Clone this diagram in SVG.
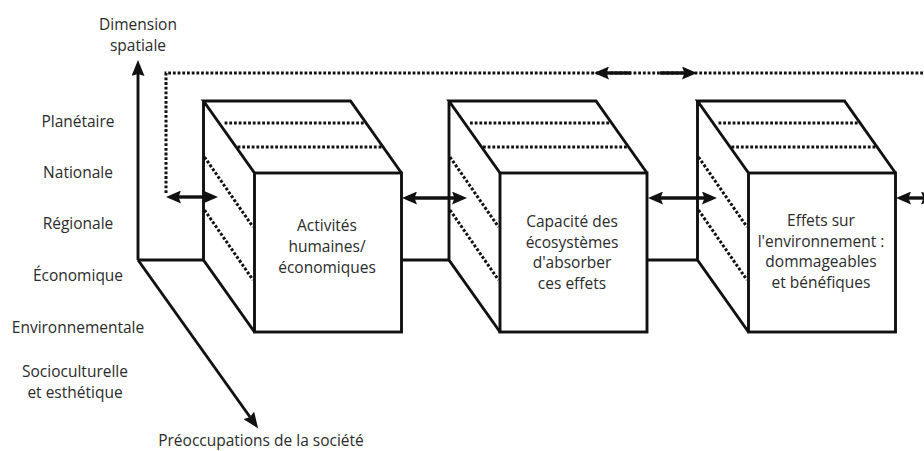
<svg xmlns="http://www.w3.org/2000/svg" width="924" height="451" viewBox="0 0 924 451">
  <style>
    .txt { font-family: "Open Sans", "Noto Sans", sans-serif; font-size: 15.5px; fill: #2b2b2b; text-anchor: middle; }
    .edge { fill: none; stroke: #111; stroke-width: 2.9; stroke-linejoin: miter; }
    .face { fill: #fff; stroke: #111; stroke-width: 2.9; }
    .dots { fill: none; stroke: #111; stroke-width: 3; stroke-dasharray: 2.8 1.9; }
    .shaft { fill: none; stroke: #111; stroke-width: 3.4; }
  </style>
  <defs>
    <marker id="head" markerUnits="userSpaceOnUse" viewBox="0 0 15 13" markerWidth="15" markerHeight="13" refX="3" refY="6.5" orient="auto-start-reverse">
      <path d="M0,0 L15,6.5 L0,13 L2.5,6.5 z" fill="#111"/>
    </marker>
    <marker id="axisHead" markerUnits="userSpaceOnUse" viewBox="0 0 16 13" markerWidth="16" markerHeight="13" refX="2" refY="6.5" orient="auto">
      <path d="M0,0 L16,6.5 L0,13 L2,6.5 z" fill="#111"/>
    </marker>
  </defs>
  <rect width="924" height="451" fill="#fff"/>

  <!-- axes: spatial dimension (up) and societal concerns (down-right) -->
  <g id="axes">
    <line class="edge" x1="138" y1="260" x2="138" y2="74" marker-end="url(#axisHead)"/>
    <line class="edge" x1="138" y1="260" x2="250" y2="417" marker-end="url(#axisHead)"/>
    <text class="txt" x="138" y="30">Dimension</text>
    <text class="txt" x="138" y="51">spatiale</text>
    <text class="txt" x="78" y="127">Planétaire</text>
    <text class="txt" x="78" y="178">Nationale</text>
    <text class="txt" x="78" y="229">Régionale</text>
    <text class="txt" x="78" y="281">Économique</text>
    <text class="txt" x="78" y="333">Environnementale</text>
    <text class="txt" x="75" y="377">Socioculturelle</text>
    <text class="txt" x="75" y="398">et esthétique</text>
    <text class="txt" x="261" y="446">Préoccupations de la société</text>
  </g>

  <!-- cube 1 -->
  <g id="cube-activites">
    <rect class="face" x="254.5" y="173" width="147" height="159"/>
    <path class="edge" d="M254.5,173 L203.5,101 H350.5 L401.5,173 M203.5,101 V260 L254.5,332"/>
    <line class="dots" x1="224.6" y1="123" x2="366" y2="123"/>
    <line class="dots" x1="237.6" y1="147" x2="383" y2="147"/>
    <line class="dots" x1="204.5" y1="157" x2="253" y2="227"/>
    <line class="dots" x1="204.5" y1="210" x2="253" y2="280"/>
    <text class="txt" x="327" y="231">Activités</text>
    <text class="txt" x="327" y="252">humaines/</text>
    <text class="txt" x="327" y="273">économiques</text>
  </g>

  <!-- cube 2 -->
  <g id="cube-capacite">
    <rect class="face" x="500" y="173" width="147" height="159"/>
    <path class="edge" d="M500,173 L449,101 H596 L647,173 M449,101 V260 L500,332"/>
    <line class="dots" x1="470" y1="123" x2="611.5" y2="123"/>
    <line class="dots" x1="483" y1="147" x2="628.5" y2="147"/>
    <line class="dots" x1="450" y1="157" x2="498.5" y2="227"/>
    <line class="dots" x1="450" y1="210" x2="498.5" y2="280"/>
    <text class="txt" x="572" y="227">Capacité des</text>
    <text class="txt" x="572" y="247.5">écosystèmes</text>
    <text class="txt" x="572" y="268">d'absorber</text>
    <text class="txt" x="572" y="288.5">ces effets</text>
  </g>

  <!-- cube 3 -->
  <g id="cube-effets">
    <rect class="face" x="748.5" y="173" width="147" height="159"/>
    <path class="edge" d="M748.5,173 L697.5,101 H844.5 L895.5,173 M697.5,101 V260 L748.5,332"/>
    <line class="dots" x1="718.5" y1="123" x2="860" y2="123"/>
    <line class="dots" x1="731.5" y1="147" x2="877" y2="147"/>
    <line class="dots" x1="698.5" y1="157" x2="747" y2="227"/>
    <line class="dots" x1="698.5" y1="210" x2="747" y2="280"/>
    <text class="txt" x="821" y="226">Effets sur</text>
    <text class="txt" x="821" y="246.5">l'environnement :</text>
    <text class="txt" x="821" y="267">dommageables</text>
    <text class="txt" x="821" y="287.5">et bénéfiques</text>
  </g>

  <!-- connectors -->
  <g id="connectors">
    <!-- floor line linking the axis corner and the cubes -->
    <line class="edge" x1="138" y1="260" x2="203.5" y2="260"/>
    <line class="edge" x1="401.5" y1="260" x2="449" y2="260"/>
    <line class="edge" x1="647" y1="260" x2="697.5" y2="260"/>
    <!-- feedback loop along the top -->
    <path class="dots" d="M166,193 V73 H924"/>
    <line class="shaft" x1="606" y1="73" x2="631" y2="73" marker-start="url(#head)"/>
    <line class="shaft" x1="660" y1="73" x2="685" y2="73" marker-end="url(#head)"/>
    <!-- two-way exchanges between stages -->
    <line class="shaft" x1="178" y1="197" x2="206" y2="197" marker-start="url(#head)" marker-end="url(#head)"/>
    <line class="shaft" x1="414" y1="198" x2="455" y2="198" marker-start="url(#head)" marker-end="url(#head)"/>
    <line class="shaft" x1="660" y1="198" x2="705" y2="198" marker-start="url(#head)" marker-end="url(#head)"/>
    <line class="shaft" x1="908" y1="198" x2="924" y2="198" marker-start="url(#head)" marker-end="url(#head)"/>
  </g>
</svg>
